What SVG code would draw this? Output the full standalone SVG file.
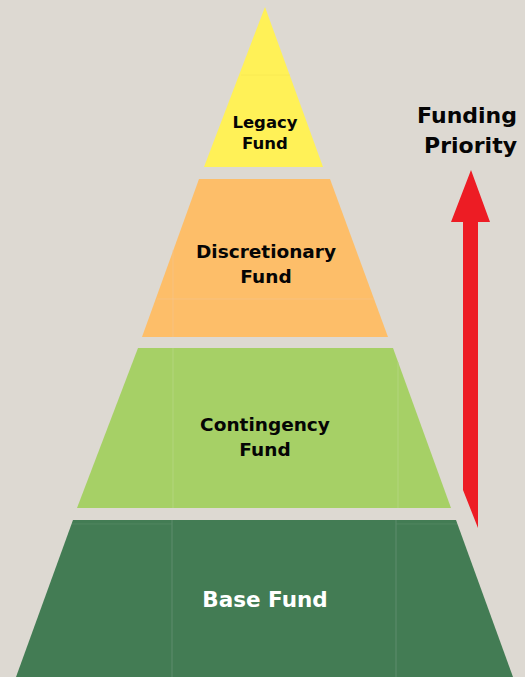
<svg xmlns="http://www.w3.org/2000/svg" width="525" height="677" viewBox="0 0 525 677">
  <style>
    .lbl { font-family: "DejaVu Sans", "Liberation Sans", sans-serif; font-weight: bold; text-anchor: middle; fill: #050505; }
    .seam { stroke-width: 1; fill: none; }
  </style>
  <rect width="525" height="677" fill="#DDD9D2"/>

  <g id="legacy-fund">
    <polygon points="265,7 204,167 323,167" fill="#FFF157"/>
    <line class="seam" x1="241" y1="75" x2="290" y2="75" stroke="#F5E650" stroke-opacity="0.6"/>
    <text class="lbl" x="265" y="128" font-size="16.5">Legacy</text>
    <text class="lbl" x="265" y="149" font-size="16.5">Fund</text>
  </g>

  <g id="discretionary-fund">
    <polygon points="199,179 330,179 388,337 142,337" fill="#FDBE69"/>
    <line class="seam" x1="173" y1="250" x2="173" y2="337" stroke="#F5C690" stroke-opacity="0.6"/>
    <line class="seam" x1="157" y1="299" x2="374" y2="299" stroke="#F5C690" stroke-opacity="0.6"/>
    <text class="lbl" x="266" y="258" font-size="18.5">Discretionary</text>
    <text class="lbl" x="266" y="283" font-size="18.5">Fund</text>
  </g>

  <g id="contingency-fund">
    <polygon points="138,348 393,348 451,508 77,508" fill="#A6D066"/>
    <line class="seam" x1="173" y1="348" x2="173" y2="508" stroke="#B8D888" stroke-opacity="0.7"/>
    <line class="seam" x1="398" y1="362" x2="398" y2="508" stroke="#B8D888" stroke-opacity="0.7"/>
    <text class="lbl" x="265" y="431" font-size="18.5">Contingency</text>
    <text class="lbl" x="265" y="456" font-size="18.5">Fund</text>
  </g>

  <g id="base-fund">
    <polygon points="73,520 456,520 513,677 16,677" fill="#437C54"/>
    <line class="seam" x1="172" y1="520" x2="172" y2="677" stroke="#6B9677" stroke-opacity="0.7"/>
    <line class="seam" x1="396" y1="520" x2="396" y2="677" stroke="#6B9677" stroke-opacity="0.7"/>
    <line class="seam" x1="72" y1="524" x2="172" y2="524" stroke="#5C8C69" stroke-opacity="0.6"/>
    <line class="seam" x1="396" y1="524" x2="457" y2="524" stroke="#5C8C69" stroke-opacity="0.6"/>
    <text class="lbl" x="265" y="607" font-size="21.5" style="fill:#FFFFFF">Base Fund</text>
  </g>

  <g id="funding-priority">
    <text class="lbl" x="517" y="123" font-size="22" style="text-anchor:end">Funding</text>
    <text class="lbl" x="517" y="153" font-size="22" style="text-anchor:end">Priority</text>
  </g>

  <g id="connectors">
    <polygon points="471,170 490,222 478,222 478,528 463,490 463,222 451,222" fill="#ED1C24"/>
  </g>
</svg>
